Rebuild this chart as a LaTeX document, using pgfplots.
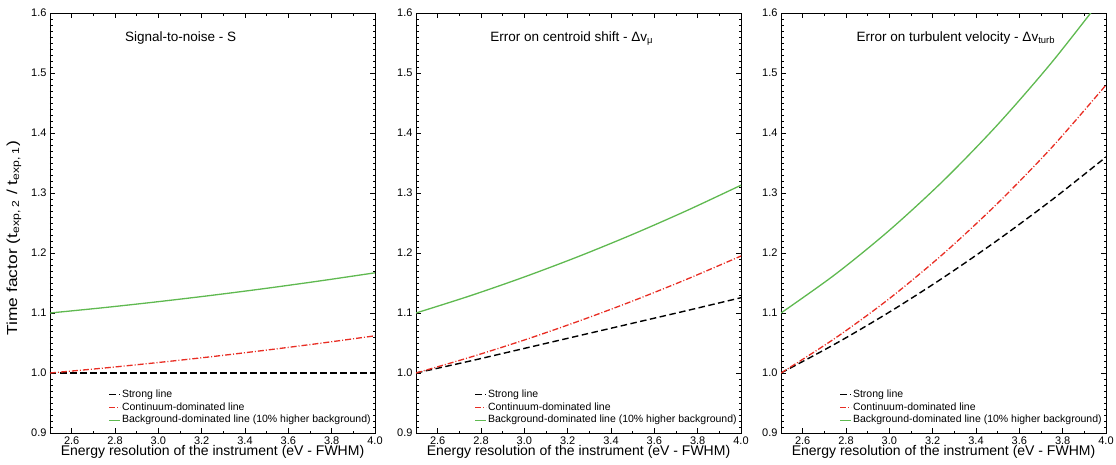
\documentclass[border=0pt]{standalone}
\usepackage{fontspec}
\setmainfont{Liberation Sans}
\usepackage{graphicx}
\usepackage{pgfplots}
\pgfplotsset{compat=1.18}

\definecolor{curvered}{RGB}{232,45,35}
\definecolor{curvegreen}{RGB}{95,185,80}

\pgfplotsset{
  panel/.style={
    scale only axis, width=325pt, height=420pt,
    xmin=2.5, xmax=4.0, ymin=0.9, ymax=1.6,
    xtick={2.6,2.8,3.0,3.2,3.4,3.6,3.8,4.0},
    minor xtick={2.5,2.7,2.9,3.1,3.3,3.5,3.7,3.9},
    ytick={0.9,1.0,1.1,1.2,1.3,1.4,1.5,1.6},
    minor y tick num=9,
    tick align=inside,
    major tick length=5pt, minor tick length=2.5pt,
    tick style={black, line width=0.6pt},
    axis line style={line width=0.8pt},
    /pgf/number format/assume math mode=true,
    xticklabel style={/pgf/number format/fixed, /pgf/number format/fixed zerofill, /pgf/number format/precision=1},
    yticklabel style={/pgf/number format/fixed, /pgf/number format/fixed zerofill, /pgf/number format/precision=1},
    tick label style={font=\fontsize{11}{13}\selectfont},
    xlabel={Energy resolution of the instrument (eV - FWHM)},
    xlabel style={font=\fontsize{14}{16}\selectfont, at={(axis description cs:0.5,-0.045)}, anchor=center},
    legend style={at={(axis description cs:0.17,0.01)}, anchor=south west, draw=none, fill=none,
      font=\fontsize{10.5}{12}\selectfont, row sep=0pt,
      nodes={inner sep=1.2pt, text height=8pt, text depth=2.5pt}},
    legend cell align=left,
    legend image code/.code={\draw[#1] (0pt,0pt) -- (11pt,0pt);},
  },
  strong/.style={black, line width=1.4pt, dash pattern=on 6.5pt off 3.5pt},
  cont/.style={curvered, line width=1.3pt, dash pattern=on 6pt off 2pt on 1pt off 2pt},
  bkg/.style={curvegreen, line width=1.3pt},
}
\tikzset{ttl/.style={anchor=west, font=\fontsize{13.5}{15}\selectfont}}

\begin{document}
\begin{tikzpicture}
\useasboundingbox (0,0) rectangle (1116pt,464pt);

% signal-to-noise
\begin{axis}[panel, at={(50pt,31pt)}, anchor=south west,
  ylabel={\scalebox{1.2}[1]{Time factor (t\textsubscript{exp, 2} / t\textsubscript{exp, 1})}},
  ylabel style={font=\fontsize{14.5}{16}\selectfont, at={(axis description cs:-0.111,0.464)}, anchor=center}]
\addplot[strong] coordinates {(2.5,1.0) (4.0,1.0)};
\addlegendentry{Strong line}
\addplot[cont, smooth] coordinates {(2.5,1.0) (2.75,1.0083) (3.0,1.0175) (3.25,1.0274) (3.5,1.0382) (3.75,1.0497) (4.0,1.062)};
\addlegendentry{Continuum-dominated line}
\addplot[bkg, smooth] coordinates {(2.5,1.1) (2.75,1.109) (3.0,1.1189) (3.25,1.1296) (3.5,1.1412) (3.75,1.1537) (4.0,1.167)};
\addlegendentry{Background-dominated line (10\% higher background)}
\node[ttl] at (axis description cs:0.22,0.94) {Signal-to-noise - S};
\end{axis}

% centroid shift
\begin{axis}[panel, at={(416pt,31pt)}, anchor=south west]
\addplot[strong, smooth] coordinates {(2.5,1.0) (2.75,1.020) (3.0,1.041) (3.25,1.062) (3.5,1.083) (3.75,1.104) (4.0,1.1255)};
\addlegendentry{Strong line}
\addplot[cont, smooth] coordinates {(2.5,1.0) (2.75,1.0263) (3.0,1.055) (3.25,1.0863) (3.5,1.12) (3.75,1.1563) (4.0,1.195)};
\addlegendentry{Continuum-dominated line}
\addplot[bkg, smooth] coordinates {(2.5,1.1) (2.75,1.1287) (3.0,1.1601) (3.25,1.1942) (3.5,1.2311) (3.75,1.2707) (4.0,1.313)};
\addlegendentry{Background-dominated line (10\% higher background)}
\node[ttl] at (axis description cs:0.218,0.94) {Error on centroid shift - Δv\textsubscript{μ}};
\end{axis}

% turbulent velocity
\begin{axis}[panel, at={(781pt,31pt)}, anchor=south west]
\addplot[strong, smooth] coordinates {(2.5,1.0) (2.75,1.0485) (3.0,1.1015) (3.25,1.1592) (3.5,1.2215) (3.75,1.2884) (4.0,1.36)};
\addlegendentry{Strong line}
\addplot[cont, smooth] coordinates {(2.5,1.0) (2.75,1.058) (3.0,1.124) (3.25,1.199) (3.5,1.283) (3.75,1.376) (4.0,1.48)};
\addlegendentry{Continuum-dominated line}
\addplot[bkg, smooth] coordinates {(2.5,1.1) (2.75,1.1643) (3.0,1.2378) (3.25,1.3208) (3.5,1.414) (3.75,1.5179) (4.0,1.633)};
\addlegendentry{Background-dominated line (10\% higher background)}
\node[ttl] at (axis description cs:0.222,0.94) {Error on turbulent velocity - Δv\textsubscript{turb}};
\end{axis}
\end{tikzpicture}
\end{document}
